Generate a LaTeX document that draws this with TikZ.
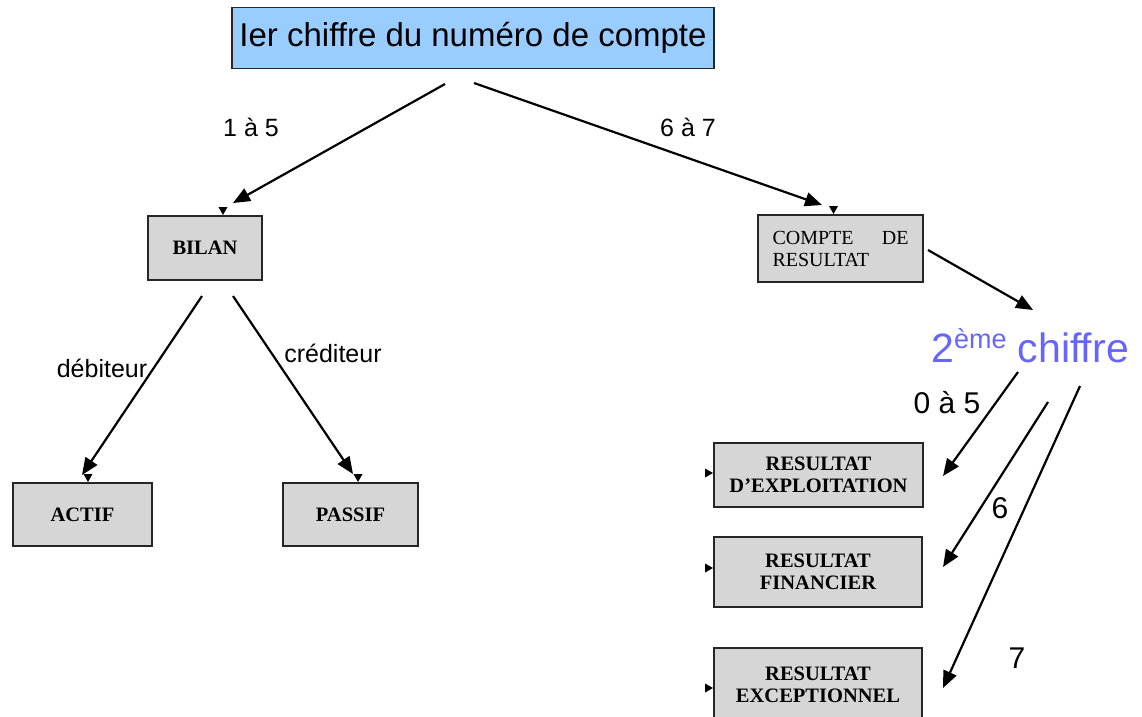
\documentclass[tikz,border=0pt]{standalone}
\usepackage{fontspec}
\setmainfont[Ligatures=NoCommon]{Liberation Sans}
\newfontfamily\tnr{Liberation Serif}
\usetikzlibrary{arrows.meta,calc}
\definecolor{topblue}{HTML}{99CCFF}
\definecolor{boxgray}{HTML}{D6D6D6}
\definecolor{violetblue}{HTML}{6666FF}
\newcommand\dnmark[1]{\fill (#1) -- ++(-4.5,-8) -- ++(9,0) -- cycle;}
\newcommand\rtmark[1]{\fill (#1) -- ++(-8,-4.5) -- ++(0,9) -- cycle;}
\begin{document}
\begin{tikzpicture}[x=1pt,y=-1pt,
  graybox/.style={draw=black!85, line width=2pt, fill=boxgray, inner sep=0pt,
    font=\tnr\fontsize{20.5}{22.5}\selectfont\bfseries, align=center},
  topbox/.style={draw=black!85, line width=1.4pt, fill=topblue, inner sep=0pt,
    font=\fontsize{33}{36}\selectfont},
  lab/.style={inner sep=0pt, font=\fontsize{25}{28}\selectfont},
  biglab/.style={inner sep=0pt, font=\fontsize{30}{34}\selectfont},
  arr/.style={line width=2.2pt, -{Triangle[length=17pt,width=14pt]}}
]
\useasboundingbox (0,0) rectangle (1142,716);
\clip (0,0) rectangle (1142,716);

% nodes
\node[topbox, minimum width=482, minimum height=61] (top) at (473,38) {Ier chiffre du numéro de compte};
\node[graybox, minimum width=114, minimum height=64] (bilan) at (205,248) {BILAN};
\node[graybox, minimum width=165, minimum height=67, font=\tnr\fontsize{20}{22}\selectfont, align=left] (compte) at (840.5,248.5)
  {\makebox[136pt][s]{COMPTE\hfill DE}\\RESULTAT};
\node[graybox, minimum width=139, minimum height=63] (actif) at (82.5,514.5) {ACTIF};
\node[graybox, minimum width=135, minimum height=63] (passif) at (350.5,514.5) {PASSIF};
\node[graybox, minimum width=209, minimum height=64] (rex) at (818.5,475) {RESULTAT\\D’EXPLOITATION};
\node[graybox, minimum width=208, minimum height=70] (rfin) at (818,572) {RESULTAT\\FINANCIER};
\node[graybox, minimum width=208, minimum height=74] (rexc) at (818,685) {RESULTAT\\EXCEPTIONNEL};

\node[anchor=base west, inner sep=0pt, text=violetblue, font=\fontsize{41}{43}\selectfont] (deux) at (931,362)
  {2\raisebox{14pt}{\fontsize{27}{28}\selectfont ème} chiffre};

% small markers
\dnmark{$(bilan.north)+(18,0)$}
\dnmark{$(compte.north)+(-7,0)$}
\dnmark{$(actif.north)+(5.5,0)$}
\dnmark{$(passif.north)+(7.5,0)$}
\rtmark{$(rex.west)+(0,-2)$}
\rtmark{$(rfin.west)+(0,-4)$}
\rtmark{$(rexc.west)+(0,3)$}

% connector end points
\coordinate (a1s) at (445,84);   \coordinate (a1e) at (233,203);
\coordinate (a2s) at (474,83);   \coordinate (a2e) at (822,205);
\coordinate (a3s) at (202,296);  \coordinate (a3e) at (82,475);
\coordinate (a4s) at (233,296);  \coordinate (a4e) at (353,474);
\coordinate (a5s) at (928,250);  \coordinate (a5e) at (1033,310);
\coordinate (a6s) at (1018,372); \coordinate (a6e) at (943,476);
\coordinate (a7s) at (1048,402); \coordinate (a7e) at (943,567);
\coordinate (a8s) at (1080,386); \coordinate (a8e) at (943,688);

\draw[arr] (a1s) -- (a1e);
\draw[arr] (a2s) -- (a2e);
\draw[arr] (a3s) -- (a3e);
\draw[arr] (a4s) -- (a4e);
\draw[arr] (a5s) -- (a5e);
\draw[arr] (a6s) -- (a6e);
\draw[arr] (a7s) -- (a7e);
\draw[arr] (a8s) -- (a8e);

% labels
\node[lab] (l1) at (251,127) {1 à 5};
\node[lab] (l2) at (688,127) {6 à 7};
\node[lab] (l3) at (102,368) {débiteur};
\node[lab] (l4) at (333,353) {créditeur};
\node[biglab] (l5) at (947,403) {0 à 5};
\node[biglab] (l6) at (1000,508) {6};
\node[biglab] (l7) at (1017,658) {7};
\end{tikzpicture}
\end{document}
